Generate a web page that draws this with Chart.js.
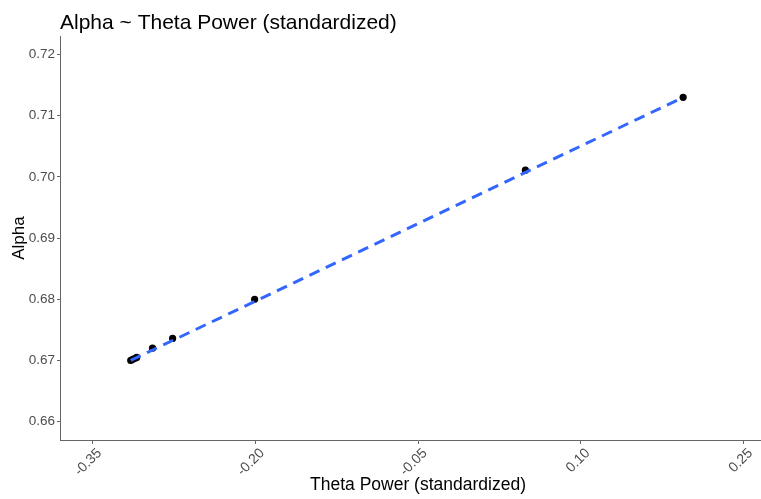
<!DOCTYPE html>
<html>
<head>
<meta charset="utf-8">
<script src="https://cdn.jsdelivr.net/npm/chart.js@4.4.0/dist/chart.umd.min.js"></script>
<style>
  html, body { margin: 0; padding: 0; background: #fff; overflow: hidden; }
  #wrap { width: 761px; height: 499px; overflow: hidden; }
</style>
</head>
<body>
<div id="wrap"><canvas id="chart" width="780" height="499"></canvas></div>
<script>
/* ── DATA ── */
var thetaVals = [-0.3148, -0.3130, -0.3111, -0.3093, -0.2947, -0.2762, -0.2006, 0.0490, 0.1944];
var alphaVals = [0.6700, 0.6702, 0.6703, 0.6705, 0.6720, 0.6736, 0.6800, 0.7011, 0.7130];

// fitted line end points
var fitX = [-0.3148, 0.1944];
var fitY = [0.6700, 0.7130];

var xTicks = [-0.35, -0.20, -0.05, 0.10, 0.25];
var yTicks = [0.66, 0.67, 0.68, 0.69, 0.70, 0.71, 0.72];

var FONT = '"Liberation Sans", Arial, sans-serif';

function pairs(xs, ys) {
  var out = [];
  for (var i = 0; i < xs.length; i++) out.push({ x: xs[i], y: ys[i] });
  return out;
}

function fixedTicks(list) {
  return function(scale) {
    scale.ticks = list.map(function(v) { return { value: v }; });
  };
}

/* ── CHART ── */
var ctx = document.getElementById('chart').getContext('2d');
new Chart(ctx, {
  type: 'scatter',
  data: {
    datasets: [{
      type: 'line',
      label: 'fit',
      data: pairs(fitX, fitY),
      borderColor: '#3366FF',
      borderWidth: 3,
      borderDash: [11, 7],
      pointRadius: 0,
      fill: false,
      tension: 0,
      order: 0
    }, {
      label: 'points',
      data: pairs(thetaVals, alphaVals),
      backgroundColor: '#000000',
      borderColor: '#000000',
      borderWidth: 0,
      pointRadius: 3.6,
      order: 1
    }]
  },
  options: {
    responsive: false,
    animation: false,
    layout: { padding: 0 },
    plugins: {
      legend: { display: false },
      tooltip: { enabled: false },
      title: {
        display: true,
        text: 'Alpha ~ Theta Power (standardized)',
        align: 'start',
        fullSize: false,
        color: '#000000',
        font: { family: FONT, size: 21, weight: 'normal', lineHeight: 1.15 },
        padding: { top: 11, bottom: 1 }
      }
    },
    scales: {
      x: {
        type: 'linear',
        min: -0.38,
        max: 0.28,
        afterBuildTicks: fixedTicks(xTicks),
        afterFit: function(s) { s.height = 59; },
        border: { display: true, color: '#666666', width: 1 },
        grid: { display: true, drawOnChartArea: false, drawTicks: true, tickLength: 4, color: '#666666' },
        ticks: {
          minRotation: 45,
          maxRotation: 45,
          padding: 1,
          labelOffset: 7,
          color: '#4d4d4d',
          font: { family: FONT, size: 14 },
          callback: function(v) { return v.toFixed(2); }
        },
        title: {
          display: true,
          text: 'Theta Power (standardized)',
          color: '#000000',
          font: { family: FONT, size: 17.5 },
          padding: { top: 0, bottom: 3 }
        }
      },
      y: {
        type: 'linear',
        min: 0.657,
        max: 0.723,
        afterBuildTicks: fixedTicks(yTicks),
        afterFit: function(s) { s.width = 60; },
        border: { display: true, color: '#666666', width: 1 },
        grid: { display: true, drawOnChartArea: false, drawTicks: true, tickLength: 3, color: '#666666' },
        ticks: {
          padding: 2,
          color: '#4d4d4d',
          font: { family: FONT, size: 13.5 },
          callback: function(v) { return v.toFixed(2); }
        },
        title: {
          display: true,
          text: 'Alpha',
          color: '#000000',
          font: { family: FONT, size: 17 },
          padding: { top: 9, bottom: 0 }
        }
      }
    }
  }
});
</script>
</body>
</html>
